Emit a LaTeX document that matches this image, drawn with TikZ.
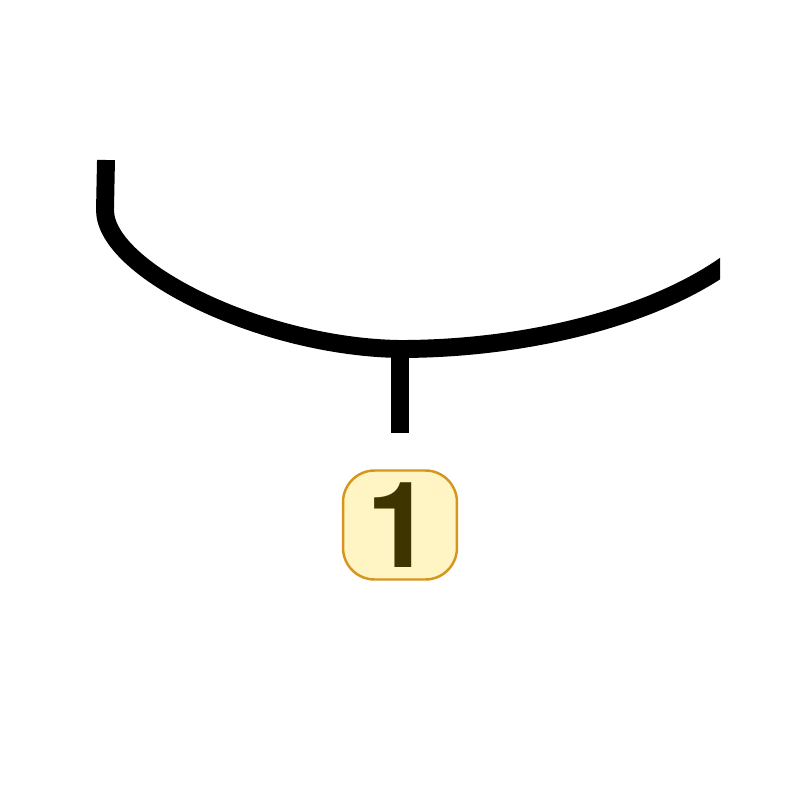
\documentclass[tikz,border=0pt]{standalone}
\usepackage{fontspec}
\newfontfamily\tagfont{TeX Gyre Heros}
\definecolor{tagfill}{RGB}{255, 244, 196}
\definecolor{tagedge}{RGB}{214, 150, 30}
\definecolor{tagtext}{RGB}{62, 52, 0}
\usetikzlibrary{positioning}

\begin{document}
\begin{tikzpicture}[x=0.01cm, y=-0.01cm, line width=5.1pt]
  \useasboundingbox (0,0) rectangle (800,800);

  % Curve, cut off at the right edge
  \coordinate (top) at (106,160);
  \coordinate (bend) at (105,210);
  \coordinate (low) at (400,349);
  \coordinate (rightend) at (740,254);
  \begin{scope}
    \clip (0,0) rectangle (720,800);
    \draw (top) -- (bend) .. controls (105,270) and (262,347) .. (low)
      .. controls (530,349) and (665,315) .. (rightend);
  \end{scope}

  % Stem and tag
  \coordinate (stemend) at (400,433);
  \draw (low) -- (stemend);
  \node[draw=tagedge, fill=tagfill, line width=0.7pt, rounded corners=9pt,
        minimum width=32.4pt, minimum height=31pt, inner sep=0pt,
        text=tagtext, font=\tagfont\bfseries\fontsize{34}{36}\selectfont] (tag) at (400,525) {1};
\end{tikzpicture}
\end{document}
